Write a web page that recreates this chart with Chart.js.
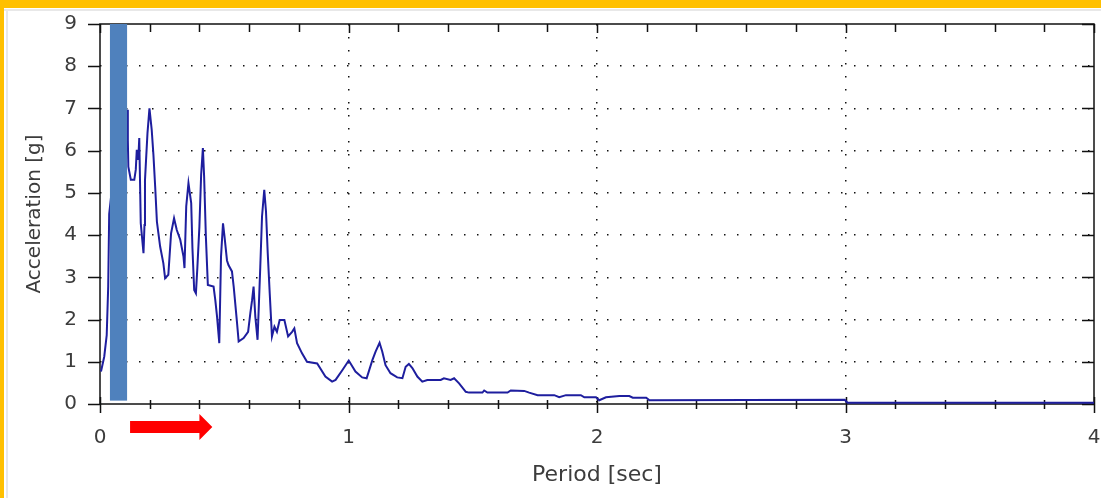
<!DOCTYPE html>
<html><head><meta charset="utf-8">
<script src="https://cdn.jsdelivr.net/npm/chart.js@4.4.1/dist/chart.umd.min.js"></script>
<style>
html,body{margin:0;padding:0;background:#fff;}
#wrap{position:relative;width:1101px;height:498px;overflow:hidden;background:#fff;}
.frame{position:absolute;}
canvas{position:absolute;left:0;top:0;}
</style></head><body>
<div id="wrap">
<div class="frame" style="left:0;top:0;width:1101px;height:8px;background:#FFC000"></div>
<div class="frame" style="left:0;top:0;width:4px;height:498px;background:#FFC000"></div>
<div class="frame" style="left:4px;top:9px;width:1097px;height:2px;background:#e8e8e8"></div>
<div class="frame" style="left:6px;top:9px;width:2px;height:489px;background:#e8e8e8"></div>
<canvas id="c" width="1101" height="498"></canvas>
</div>
<script>
// Period [sec]
const periods = [0.004,0.017,0.027,0.033,0.037,0.05,0.075,0.1,0.109,0.112,0.114,0.124,0.138,0.144,0.148,0.154,0.158,0.164,0.175,0.179,0.181,0.191,0.199,0.208,0.215,0.222,0.229,0.242,0.255,0.262,0.275,0.286,0.298,0.309,0.323,0.336,0.340,0.347,0.356,0.367,0.372,0.379,0.386,0.392,0.400,0.407,0.414,0.419,0.426,0.434,0.457,0.464,0.471,0.480,0.487,0.495,0.501,0.511,0.517,0.531,0.538,0.551,0.558,0.578,0.596,0.605,0.612,0.618,0.625,0.634,0.645,0.652,0.661,0.668,0.675,0.683,0.692,0.702,0.712,0.723,0.742,0.757,0.773,0.782,0.793,0.813,0.833,0.874,0.907,0.934,0.948,0.975,1.001,1.028,1.055,1.073,1.096,1.109,1.125,1.136,1.149,1.169,1.196,1.217,1.230,1.243,1.257,1.277,1.297,1.317,1.371,1.384,1.411,1.425,1.445,1.472,1.485,1.539,1.546,1.559,1.640,1.653,1.707,1.727,1.761,1.828,1.848,1.875,1.935,1.949,1.996,2.009,2.036,2.090,2.130,2.144,2.198,2.211,2.997,3.008,4.0];
// Acceleration [g]
const accel = [0.77,1.12,1.63,2.78,4.5,5.2,6.0,6.6,6.97,6.25,5.62,5.31,5.31,5.55,6.02,5.78,6.3,4.28,3.57,4.24,5.3,6.41,7.0,6.5,5.9,5.15,4.32,3.73,3.33,2.98,3.06,4.04,4.4,4.12,3.89,3.49,3.22,4.68,5.23,4.76,3.69,2.7,2.62,3.25,4.2,5.43,6.06,5.39,3.97,2.82,2.78,2.46,2.07,1.44,3.49,4.28,3.97,3.4,3.29,3.14,2.78,1.95,1.48,1.56,1.71,2.15,2.46,2.78,2.07,1.52,3.25,4.44,5.07,4.56,3.57,2.62,1.6,1.83,1.71,1.99,1.99,1.6,1.71,1.79,1.44,1.2,1.0,0.96,0.65,0.53,0.57,0.8,1.03,0.77,0.63,0.61,1.04,1.24,1.45,1.24,0.92,0.73,0.63,0.61,0.88,0.95,0.85,0.65,0.53,0.57,0.57,0.61,0.57,0.61,0.49,0.29,0.27,0.27,0.32,0.27,0.27,0.32,0.31,0.27,0.21,0.21,0.16,0.21,0.21,0.16,0.16,0.09,0.16,0.19,0.19,0.15,0.15,0.09,0.1,0.03,0.03];
const xTickLabels = ['0','1','2','3','4'];
const yTickLabels = ['0','1','2','3','4','5','6','7','8','9'];
const xMinorStep = 0.2;
// annotations (in data units)
const bandFrom = 0.040, bandTo = 0.109, bandBottom = 0.08;
const arrowFrom = 0.121, arrowHeadStart = 0.400, arrowTip = 0.452;

const FONT = 'DejaVu Sans';
const TXT = '#3c3c3c';

const framePlugin = {
  id: 'frame',
  beforeDatasetsDraw(chart) {
    const {ctx, chartArea: a, scales: {x, y}} = chart;
    ctx.save();
    ctx.strokeStyle = '#111';
    ctx.lineWidth = 1.5;
    ctx.strokeRect(a.left, a.top, a.right - a.left, a.bottom - a.top);
    ctx.beginPath();
    const n = Math.round((x.max - x.min) / xMinorStep);
    for (let k = 0; k <= n; k++) {
      const v = x.min + k * xMinorStep;
      const px = Math.round(x.getPixelForValue(v)) + 0.5;
      const major = Math.abs(v - Math.round(v)) < 1e-6;
      ctx.moveTo(px, a.bottom - (major ? 7 : 4));
      ctx.lineTo(px, a.bottom + (major ? 9 : 5));
      ctx.moveTo(px, a.top);
      ctx.lineTo(px, a.top + (major ? 9 : 8));
    }
    for (let v = y.min; v <= y.max; v++) {
      const py = Math.round(y.getPixelForValue(v)) + 0.5;
      ctx.moveTo(a.left - 12, py);
      ctx.lineTo(a.left, py);
      ctx.moveTo(a.right - 12, py);
      ctx.lineTo(a.right, py);
    }
    ctx.stroke();
    ctx.restore();
  },
  afterDatasetsDraw(chart) {
    const {ctx, chartArea: a, scales: {x, y}} = chart;
    ctx.save();
    const x1 = x.getPixelForValue(bandFrom), x2 = x.getPixelForValue(bandTo);
    const yt = y.getPixelForValue(y.max), yb = y.getPixelForValue(bandBottom);
    ctx.fillStyle = '#4F81BD';
    ctx.fillRect(x1, yt, x2 - x1, yb - yt);
    const ay = a.bottom + 23;
    const s0 = x.getPixelForValue(arrowFrom), s1 = x.getPixelForValue(arrowHeadStart), tip = x.getPixelForValue(arrowTip);
    ctx.fillStyle = '#FF0000';
    ctx.beginPath();
    ctx.moveTo(s0, ay - 6);
    ctx.lineTo(s1, ay - 6);
    ctx.lineTo(s1, ay - 13);
    ctx.lineTo(tip, ay);
    ctx.lineTo(s1, ay + 13);
    ctx.lineTo(s1, ay + 6);
    ctx.lineTo(s0, ay + 6);
    ctx.closePath();
    ctx.fill();
    ctx.restore();
  }
};

const gridColor = (lo, hi) => (c) => (c.tick && (c.tick.value === lo || c.tick.value === hi)) ? 'rgba(0,0,0,0)' : '#111';

new Chart(document.getElementById('c'), {
  type: 'line',
  data: {
    datasets: [{
      data: periods.map((p, i) => ({x: p, y: accel[i]})),
      borderColor: '#1e1e9e',
      borderWidth: 2,
      pointRadius: 0,
      tension: 0,
      fill: false
    }]
  },
  options: {
    responsive: false,
    animation: false,
    devicePixelRatio: 1,
    layout: {padding: {top: 24, right: 7, left: 0, bottom: 0}},
    plugins: {legend: {display: false}, tooltip: {enabled: false}},
    scales: {
      x: {
        type: 'linear', min: 0, max: 4,
        afterFit(s) { s.height = 94; },
        ticks: {stepSize: 1, padding: 0, maxRotation: 0, autoSkip: false, color: TXT,
          font: {family: FONT, size: 20},
          callback: (v) => xTickLabels[Math.round(v)] ?? ''},
        grid: {drawTicks: true, tickLength: 22, tickColor: 'rgba(0,0,0,0)', lineWidth: 1.5, color: gridColor(0, 4)},
        border: {display: false, dash: [1.5, 11.5]},
        title: {display: true, text: 'Period [sec]', color: TXT, font: {family: FONT, size: 22}, padding: {top: 0, bottom: 10}}
      },
      y: {
        min: 0, max: 9,
        afterFit(s) { s.width = 100; },
        ticks: {stepSize: 1, padding: 0, color: TXT, font: {family: FONT, size: 20},
          callback: (v) => yTickLabels[Math.round(v)] ?? ''},
        grid: {drawTicks: true, tickLength: 23, tickColor: 'rgba(0,0,0,0)', lineWidth: 1.5, color: gridColor(0, 9)},
        border: {display: false, dash: [1.5, 11.5]},
        title: {display: true, text: 'Acceleration [g]', color: TXT, font: {family: FONT, size: 20}, padding: {top: 23, bottom: 0}}
      }
    }
  },
  plugins: [framePlugin]
});
</script>
</body></html>
